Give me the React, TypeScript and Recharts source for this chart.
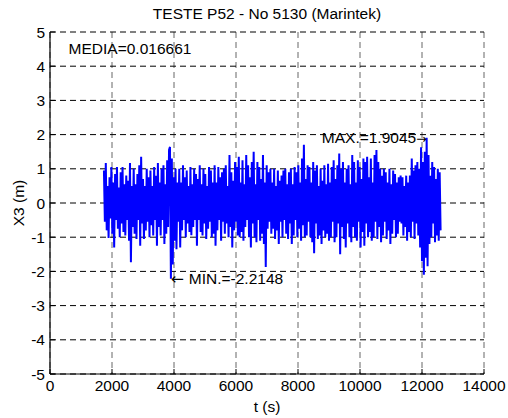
import { LineChart, Line, XAxis, YAxis, CartesianGrid, ReferenceDot } from "recharts";

// sampling of the record (s)
const T0 = 1740;
const DT = 30;

// X3 heave record (m)
const x3 = [
  0.95, -0.55, 1.17, -0.8, 0.5, -1.02, 0.75, -0.45, 1.05, -0.9, 0.6, -1.3, 0.85, -0.5, 1.05, -0.75, 0.45, -1.0, 0.9, -0.6,
  1.05, -0.85, 0.55, -0.95, 0.8, -0.5, 0.65, -1.1, 1.17, -1.73, 0.5, -0.7, 1.0, -0.9, 0.55, -1.05, 0.85, -0.5, 1.1, -1.25,
  1.35, -0.6, 0.7, -1.05, 0.5, -0.8, 1.0, -0.55, 0.75, -1.0, 0.95, -0.65, 0.5, -0.95, 1.05, -0.5, 0.8, -1.25, 1.17, -0.7,
  0.6, -0.95, 1.0, -0.5, 1.1, -1.2, 0.55, -0.9, 1.25, -0.7, 1.55, 1.64, -2.2148, 1.3, -1.8, 0.75, -1.1, 1.0, -1.35, 0.6,
  -0.55, 1.0, -1.3, 0.6, -0.8, 1.1, -0.5, 0.75, -1.0, 0.95, -0.6, 0.5, -0.85, 1.05, -0.94, 0.55, -0.7, 1.0, -0.5, 0.85,
  -1.25, 0.7, -0.5, 1.1, -0.85, 0.55, -0.95, 1.0, -0.6, 0.85, -1.05, 0.5, -0.75, 1.05, -0.55, 0.95, -1.0, 0.6, -0.9, 1.1,
  -1.25, 0.6, -0.8, 1.05, -0.5, 0.75, -1.1, 0.9, -0.55, 1.0, -0.9, 1.1, -0.6, 0.5, -1.0, 1.4, -0.7, 0.9, -1.3, 0.65,
  -0.8, 1.2, -0.55, 1.05, -0.95, 1.35, -1.0, 0.6, -0.85, 1.25, -1.1, 0.55, -0.7, 1.4, -0.5, 1.1, -1.0, 0.75, -1.3, 1.2,
  -0.6, 1.5, -1.0, 0.55, -1.15, 1.2, -0.5, 1.05, -1.1, 0.7, -0.9, 1.4, -1.2, 0.6, -1.87, 1.1, -0.75, 0.9, -0.55, 1.0,
  -0.9, 0.6, -0.75, 1.0, -1.05, 0.5, -0.8, 0.95, -1.2, 0.65, -0.55, 0.8, -1.0, 0.95, -0.5, 1.0, -0.9, 0.55, -1.05, 0.9,
  -0.6, 1.0, -1.2, 0.55, -0.95, 1.05, -0.5, 0.9, -1.0, 1.1, -0.75, 0.6, -1.1, 1.3, -0.65, 1.7, -1.0, 0.7, -0.95, 1.1,
  -0.55, 1.05, -1.0, 0.6, -1.15, 1.2, -1.47, 0.95, -0.6, 1.1, -1.05, 0.5, -0.95, 1.0, -1.2, 0.65, -0.8, 1.1, -1.0, 0.55,
  -0.9, 1.15, -1.1, 0.6, -1.0, 1.05, -0.55, 1.25, -1.15, 0.7, -1.0, 1.1, -0.6, 1.45, -1.5, 1.0, -0.7, 1.2, -1.05, 0.6,
  -1.3, 1.0, -0.6, 1.1, -1.0, 0.55, -1.15, 1.4, -0.7, 1.2, -1.0, 0.6, -1.1, 1.25, -0.55, 1.05, -1.3, 0.7, -0.85, 1.3,
  -1.25, 1.2, -0.6, 1.35, -1.0, 0.75, -0.85, 1.3, -1.1, 0.6, -1.0, 1.4, -0.55, 1.55, -1.05, 1.2, -0.7, 1.0, -1.15, 0.8,
  -0.95, 1.0, -0.55, 0.9, -1.05, 0.6, -0.8, 1.0, -1.2, 0.55, -0.9, 0.95, -0.5, 0.85, -1.0, 0.6, -0.9, 0.75, -0.55, 0.8,
  -0.6, 0.75, -0.95, 0.5, -0.7, 0.8, -1.1, 0.6, -0.85, 0.8, -1.0, 1.3, -0.55, 0.95, -1.05, 1.1, -0.6, 1.2, -0.95, 1.0,
  -1.3, 1.63, -1.7, 1.2, -2.1, 1.5, -1.6, 1.9045, -1.85, 1.4, -1.2, 0.8, -1.0, 1.2, -0.6, 1.05, -1.15, 0.7, -0.95, 1.0,
  -1.1, 0.9, -0.8,
];

const xTicks = [0, 2000, 4000, 6000, 8000, 10000, 12000, 14000];
const yTicks = [-5, -4, -3, -2, -1, 0, 1, 2, 3, 4, 5];
const MEDIA = "0.016661";

const FONT = "'Liberation Sans', Arial, Helvetica, sans-serif";
const ARROW_FONT = "'DejaVu Sans', sans-serif";
const FS = 15.5;

const data = x3.map((v, i) => ({ t: T0 + i * DT, x3: v }));
const iMax = x3.indexOf(Math.max(...x3));
const iMin = x3.indexOf(Math.min(...x3));

const noText = () => "";

function Note({ viewBox, text, anchor, before, after }: any) {
  return (
    <text
      x={viewBox.x + viewBox.width / 2}
      y={viewBox.y + viewBox.height / 2}
      textAnchor={anchor}
      dominantBaseline="central"
      fontFamily={FONT}
      fontSize={FS}
      fill="#000"
    >
      {before && <tspan fontFamily={ARROW_FONT}>{before}</tspan>}
      {text}
      {after && <tspan fontFamily={ARROW_FONT} fontSize={FS - 3}>{after}</tspan>}
    </text>
  );
}

function YTitle({ viewBox }: any) {
  const x = 18;
  const y = viewBox.y + viewBox.height / 2;
  return (
    <text x={x} y={y} transform={`rotate(-90 ${x} ${y})`} textAnchor="middle" dominantBaseline="central"
      fontFamily={FONT} fontSize={FS} fill="#000">
      X3 (m)
    </text>
  );
}

export default function App() {
  const tickStyle = { fontFamily: FONT, fontSize: FS, fill: "#000" };
  return (
    <div style={{ position: "fixed", left: 0, top: 0, width: 508, height: 418, background: "#fff" }}>
      <div
        style={{
          position: "absolute", left: 50, width: 434, top: 5, textAlign: "center",
          fontFamily: FONT, fontSize: FS, lineHeight: "18px", color: "#000",
        }}
      >
        TESTE P52 - No 5130 (Marintek)
      </div>
      <LineChart width={508} height={418} data={data} margin={{ top: 32, right: 24, bottom: 0, left: 0 }}>
        <CartesianGrid horizontal={false} stroke="#666" strokeDasharray="6 4" />
        <CartesianGrid vertical={false} stroke="#000" strokeDasharray="6 4" />
        <XAxis
          dataKey="t" type="number" domain={[0, 14000]} ticks={xTicks} interval={0}
          height={44} tickSize={-5} tickMargin={11} tick={tickStyle}
          stroke="#000" axisLine={{ stroke: "#000", strokeWidth: 1.2 }}
          label={{ value: "t (s)", position: "insideBottom", offset: 6, style: tickStyle }}
        />
        <XAxis
          xAxisId="top" orientation="top" type="number" domain={[0, 14000]} ticks={xTicks} interval={0}
          height={0} tickSize={-5} tickFormatter={noText} stroke="#000"
          axisLine={{ stroke: "#000", strokeWidth: 1.2 }}
        />
        <YAxis
          type="number" domain={[-5, 5]} ticks={yTicks} interval={0}
          width={50} tickSize={-5} tickMargin={10} tick={tickStyle}
          stroke="#000" axisLine={{ stroke: "#000", strokeWidth: 1.2 }}
          label={<YTitle />}
        />
        <YAxis
          yAxisId="right" orientation="right" type="number" domain={[-5, 5]} ticks={yTicks} interval={0}
          width={0} tickSize={-5} tickFormatter={noText} stroke="#000"
          axisLine={{ stroke: "#000", strokeWidth: 1.2 }}
        />
        <Line
          dataKey="x3" type="linear" stroke="#0000ff" strokeWidth={2} dot={false}
          isAnimationActive={false}
        />
        <ReferenceDot x={600} y={4.53} r={0} label={<Note text={`MEDIA=${MEDIA}`} anchor="start" />} />
        <ReferenceDot
          x={data[iMin].t} y={x3[iMin]} r={0}
          label={<Note before={"\u2190 "} text={`MIN.=${x3[iMin]}`} anchor="start" />}
        />
        <ReferenceDot
          x={data[iMax].t} y={x3[iMax]} r={0}
          label={<Note text={`MAX.=${x3[iMax]}`} after={"\u2192"} anchor="end" />}
        />
      </LineChart>
    </div>
  );
}
